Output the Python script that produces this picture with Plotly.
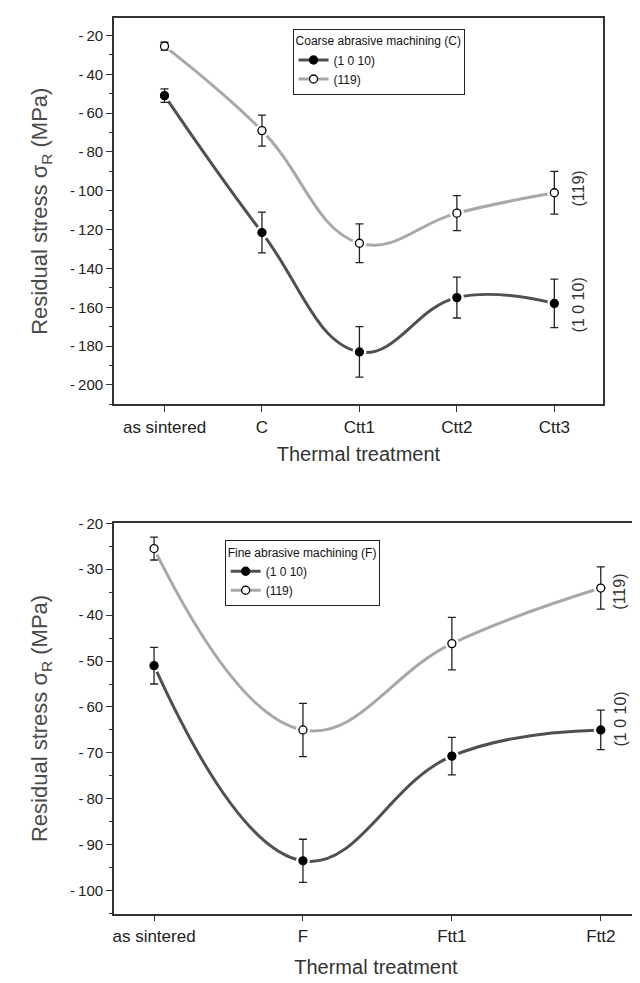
import plotly.graph_objects as go

# ---------------- data ----------------
coarse_cats = ["as sintered", "C", "Ctt1", "Ctt2", "Ctt3"]
coarse_1010 = [-51, -121.5, -183, -155, -158]
coarse_1010_err = [3.5, 10.5, 13, 10.5, 12.5]
coarse_119 = [-25.5, -69, -127, -111.5, -101]
coarse_119_err = [2, 8, 10, 9, 11]

fine_cats = ["as sintered", "F", "Ftt1", "Ftt2"]
fine_1010 = [-51, -93.5, -70.7, -65]
fine_1010_err = [4, 4.7, 4.1, 4.3]
fine_119 = [-25.5, -65, -46.2, -34.1]
fine_119_err = [2.5, 5.8, 5.7, 4.6]

coarse_yticks = [-200, -180, -160, -140, -120, -100, -80, -60, -40, -20]
fine_yticks = [-100, -90, -80, -70, -60, -50, -40, -30, -20]


def tick_text(vals):
    return ["-\u2009" + str(abs(v)) if v < 0 else str(v) for v in vals]


DARK = "#505050"
LIGHT = "#a8a8a8"
FONT = "Liberation Sans"

fig = go.Figure()


def add_series(cats, vals, errs, color, filled, name, xa, ya, legend):
    # smooth connecting curve
    fig.add_trace(go.Scatter(
        x=cats, y=vals, mode="lines", showlegend=False, hoverinfo="skip",
        line=dict(color=color, width=3, shape="spline", smoothing=1.2),
        xaxis=xa, yaxis=ya,
    ))
    # white halo that opens a small gap in the curve around each symbol
    fig.add_trace(go.Scatter(
        x=cats, y=vals, mode="markers", showlegend=False, hoverinfo="skip",
        marker=dict(size=14, color="white", line=dict(width=0)),
        xaxis=xa, yaxis=ya,
    ))
    marker = dict(size=8, color="black" if filled else "white",
                  line=dict(color="black", width=1.3), symbol="circle")
    # symbols with error bars
    fig.add_trace(go.Scatter(
        x=cats, y=vals, mode="markers", name=name, showlegend=False,
        marker=marker,
        error_y=dict(type="data", array=errs, visible=True, color="#222",
                     thickness=1.3, width=4),
        xaxis=xa, yaxis=ya,
    ))
    # legend entry (line + symbol)
    fig.add_trace(go.Scatter(
        x=[None], y=[None], mode="lines+markers", name=name,
        line=dict(color=color, width=3), marker=marker,
        xaxis=xa, yaxis=ya, legend=legend,
    ))


add_series(coarse_cats, coarse_1010, coarse_1010_err, DARK, True, "(1 0 10)", "x", "y", "legend")
add_series(coarse_cats, coarse_119, coarse_119_err, LIGHT, False, "(119)", "x", "y", "legend")
add_series(fine_cats, fine_1010, fine_1010_err, DARK, True, "(1 0 10)", "x2", "y2", "legend2")
add_series(fine_cats, fine_119, fine_119_err, LIGHT, False, "(119)", "x2", "y2", "legend2")

# page body has an 8px default margin
OFF = 8
W, H = 640 - OFF, 983 - OFF


def px_x(p):
    return min(1.0, max(0.0, (p - OFF) / W))


def px_y(p):
    return min(1.0, max(0.0, 1 - (p - OFF) / H))


axis_common = dict(showline=True, linecolor="#333", linewidth=1.5, mirror=True,
                   showgrid=False, zeroline=False, ticks="outside",
                   tickcolor="#333", tickwidth=1.3, ticklen=6,
                   tickfont=dict(family=FONT, size=17, color="#222"))

ytitle = "Residual stress σ<sub>R</sub> (MPa)"
xtitle = "Thermal treatment"

fig.update_layout(
    width=W, height=H, margin=dict(l=0, r=0, t=0, b=0),
    paper_bgcolor="white", plot_bgcolor="white",
    font=dict(family=FONT, color="#333"),
    xaxis=dict(axis_common, domain=[px_x(113), px_x(603)], anchor="y",
               type="category", categoryorder="array", categoryarray=coarse_cats,
               range=[-0.52, 4.5],
               title=dict(text=xtitle, font=dict(size=20, color="#333"), standoff=11)),
    yaxis=dict(axis_common, domain=[px_y(399), px_y(9)], anchor="x",
               range=[-210, -11], tickvals=coarse_yticks, ticktext=tick_text(coarse_yticks),
               minor=dict(ticks="outside", ticklen=3, dtick=10, tickcolor="#333"),
               tickfont=dict(family=FONT, size=15, color="#222"),
               title=dict(text=ytitle, font=dict(size=22, color="#4a4a4a"), standoff=16)),
    xaxis2=dict(axis_common, domain=[px_x(113), px_x(638)], anchor="y2",
                type="category", categoryorder="array", categoryarray=fine_cats,
                range=[-0.27, 3.25],
                title=dict(text=xtitle, font=dict(size=20, color="#333"), standoff=15)),
    yaxis2=dict(axis_common, domain=[px_y(913), px_y(519)], anchor="x2",
                range=[-105, -20], tickvals=fine_yticks, ticktext=tick_text(fine_yticks),
                minor=dict(ticks="outside", ticklen=3, dtick=5, tickcolor="#333"),
                tickfont=dict(family=FONT, size=15, color="#222"),
                title=dict(text=ytitle, font=dict(size=22, color="#4a4a4a"), standoff=16)),
    legend=dict(x=px_x(292), y=px_y(20), xanchor="left", yanchor="top",
                bordercolor="#222", borderwidth=1, bgcolor="white",
                title=dict(text="Coarse abrasive machining (C)", font=dict(size=12, color="#111")),
                font=dict(size=12, color="#111"), tracegroupgap=0, itemwidth=30),
    legend2=dict(x=px_x(224), y=px_y(536), xanchor="left", yanchor="top",
                 bordercolor="#222", borderwidth=1, bgcolor="white",
                 title=dict(text="Fine abrasive machining (F)", font=dict(size=12, color="#111")),
                 font=dict(size=12, color="#111"), tracegroupgap=0, itemwidth=30),
    showlegend=True,
)

labels = [
    ("(119)", px_x(578), px_y(181)),
    ("(1 0 10)", px_x(578), px_y(299)),
    ("(119)", px_x(620), px_y(588)),
    ("(1 0 10)", px_x(620), px_y(717)),
]
for txt, ax, ay in labels:
    fig.add_annotation(text=txt, x=ax, y=ay, xref="paper", yref="paper",
                       xanchor="center", yanchor="middle",
                       showarrow=False, textangle=-90,
                       font=dict(family=FONT, size=16, color="#333"))

fig.write_html("out.html")
